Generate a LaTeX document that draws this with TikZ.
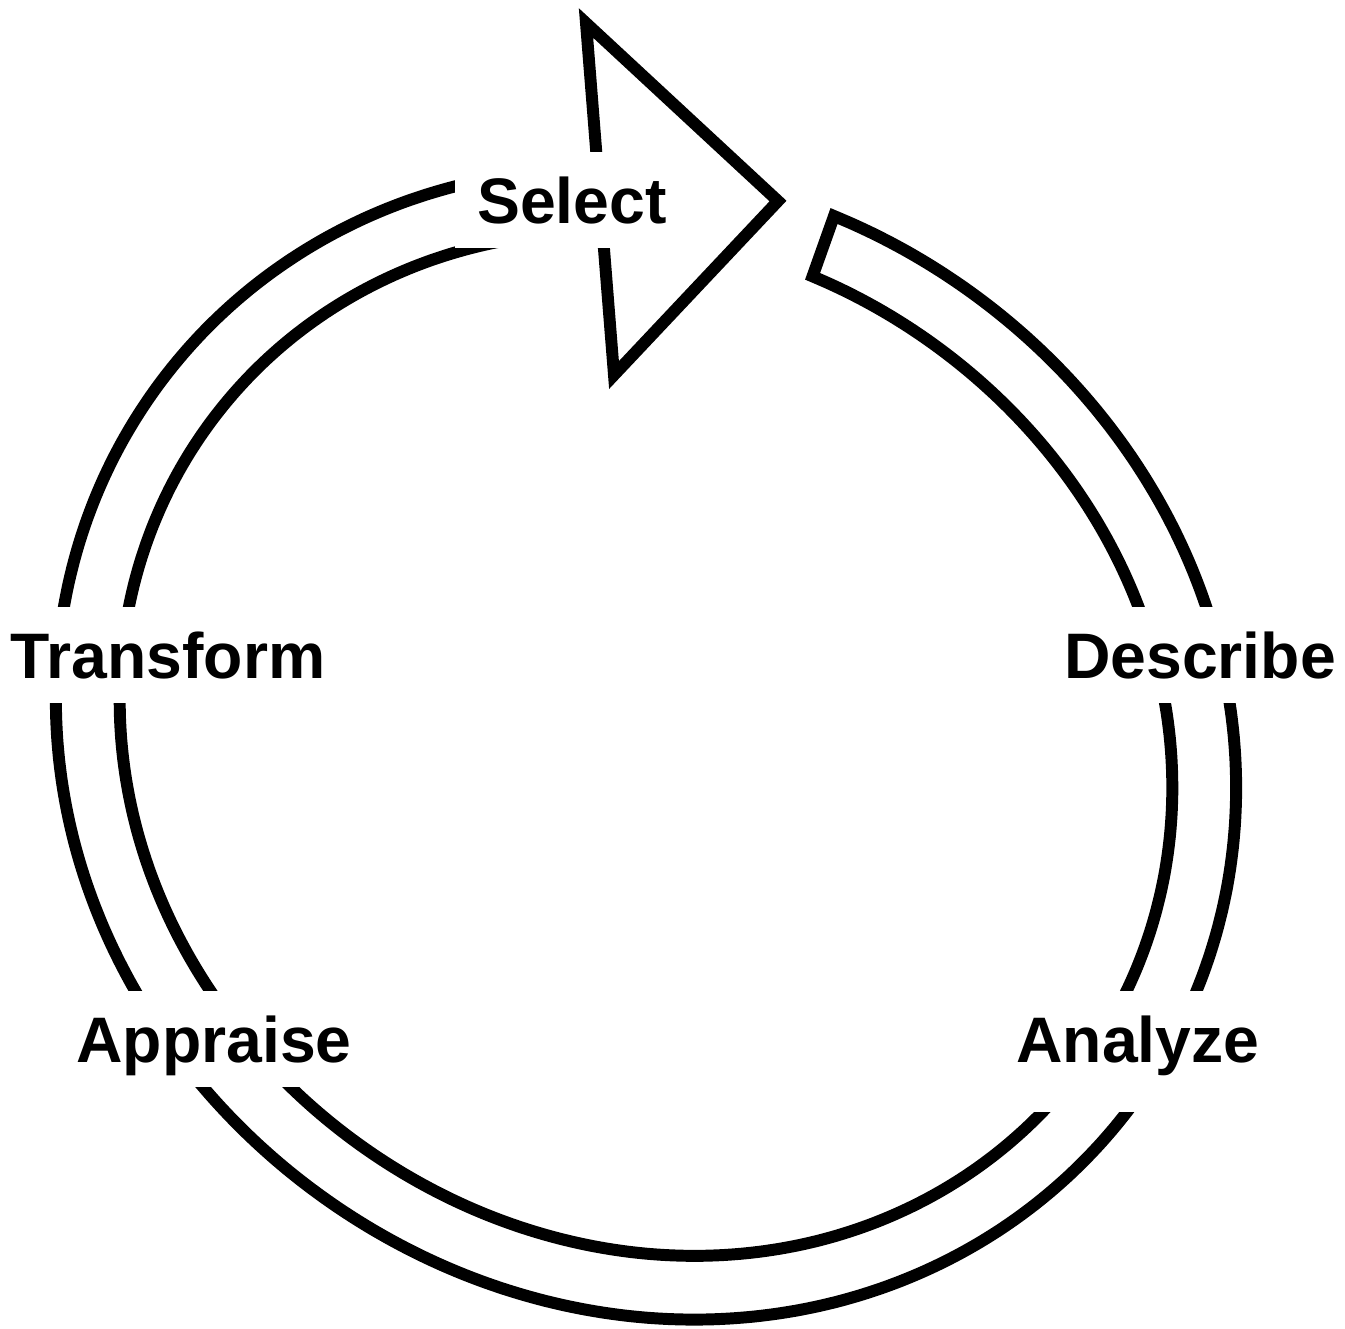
\documentclass[tikz,border=0pt]{standalone}
\usepackage{fontspec}
\setmainfont{Liberation Sans}
\usetikzlibrary{positioning}

\begin{document}
\begin{tikzpicture}[x=0.1mm,y=-0.1mm,
  declare function={ro(\a)=581+26*cos(2*(\a-32))-4*cos(2*\a); ri(\a)=517+26*cos(2*(\a-32))-4*cos(2*\a);},
  band/.style={line width=3.4pt, line join=miter},
  lbl/.style={fill=white, inner xsep=6.3pt, inner ysep=7.1pt, text height=13.1pt, text depth=0pt,
    anchor=base, font=\bfseries\fontsize{18.3}{22}\selectfont}]
 \useasboundingbox (0,0) rectangle (1345,1328);
 % band: inner edge from the head round to the tail, then back along the outer edge
 \draw[band] plot[domain=-265:70.4, samples=160, smooth, variable=\t]
     ({646+ri(-\t)*cos(-\t)}, {744+ri(-\t)*sin(-\t)})
   -- plot[domain=-70.4:265, samples=160, smooth, variable=\t]
     ({646+ro(\t)*cos(\t)}, {744+ro(\t)*sin(\t)});
 % head
 \draw[band] (586,23) -- (778,201) -- (614,375) -- cycle;
 % labels
 \node[lbl] (select) at (572,223) {Select};
 \node[lbl] (describe) at (1200,678) {Describe};
 \node[lbl, text depth=7.1pt] (analyze) at (1138,1062) {Analyze};
 \node[lbl] (appraise) at (214,1062) {Appraise};
 \node[lbl] (transform) at (168,678) {Transform};
\end{tikzpicture}
\end{document}
